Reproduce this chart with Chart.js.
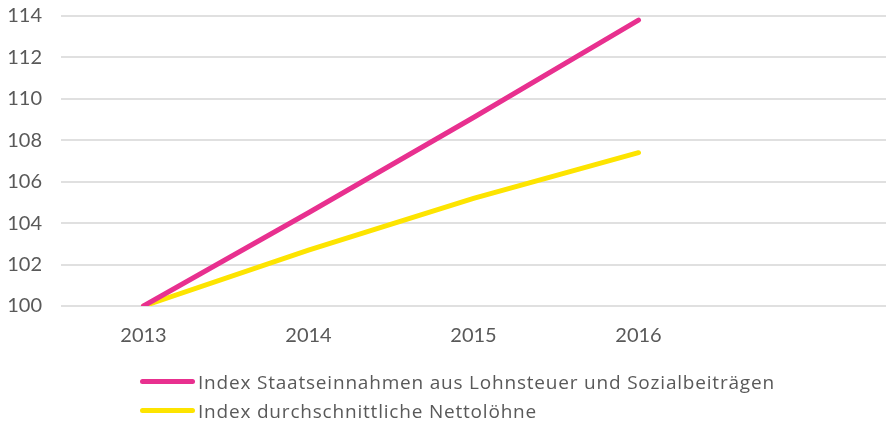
<!DOCTYPE html>
<html>
<head>
<meta charset="utf-8">
<script src="https://cdn.jsdelivr.net/npm/chart.js@4.4.1/dist/chart.umd.min.js"></script>
<style>
  html, body { margin: 0; padding: 0; background: #ffffff; }
  #wrap { position: relative; width: 886px; height: 369px; }
  #legend { position: absolute; left: 140px; top: 367px; font-family: "Open Sans", sans-serif; font-size: 19px; letter-spacing: 0.8px; color: #595959; }
  .legend-row { display: flex; align-items: center; height: 29px; white-space: nowrap; }
  .legend-swatch { width: 55px; height: 5px; border-radius: 3px; margin-right: 3px; }
</style>
</head>
<body>
<div id="wrap"><canvas id="chart"></canvas></div>
<div id="legend"></div>
<script>
const years = ['2013', '2014', '2015', '2016', ''];
const seriesNames = [
    'Index Staatseinnahmen aus Lohnsteuer und Sozialbeiträgen',
    'Index durchschnittliche Nettolöhne'
];
const staatseinnahmen = [100, 104.5, 109.1, 113.8, null];
const nettoloehne = [100, 102.7, 105.2, 107.4, null];
const seriesColors = ['#e8308f', '#fde400'];

const textColor = '#595959';
const gridColor = '#e0e0e0';

const legendEl = document.getElementById('legend');
legendEl.innerHTML = seriesNames.map((name, i) => (
    `<div class="legend-row"><div class="legend-swatch" style="background:${seriesColors[i]}"></div>${name}</div>`
)).join('');

const chart = new Chart(document.getElementById('chart'), {
    type: 'line',
    data: {
        labels: years,
        datasets: [
            {
                label: seriesNames[0],
                data: staatseinnahmen,
                borderColor: seriesColors[0],
                borderWidth: 5,
                borderCapStyle: 'round',
                pointRadius: 0,
                tension: 0,
                order: 1
            },
            {
                label: seriesNames[1],
                data: nettoloehne,
                borderColor: seriesColors[1],
                borderWidth: 5,
                borderCapStyle: 'round',
                pointRadius: 0,
                tension: 0,
                order: 2
            }
        ]
    },
    options: {
        responsive: true,
        maintainAspectRatio: false,
        animation: false,
        layout: { padding: { top: 16, right: 0, bottom: 3, left: 0 } },
        plugins: {
            legend: { display: false },
            tooltip: { enabled: false }
        },
        scales: {
            x: {
                offset: true,
                grid: { display: false, drawTicks: false },
                border: { display: false },
                ticks: {
                    color: textColor,
                    padding: 18,
                    maxRotation: 0,
                    font: { family: 'Lato', size: 20 }
                }
            },
            y: {
                min: 100,
                max: 114,
                afterFit: scale => {
                    scale.width = 61;
                    scale.paddingTop = 0;
                    scale.paddingBottom = 0;
                },
                grid: { color: gridColor, lineWidth: 2, drawTicks: false },
                border: { display: false },
                ticks: {
                    stepSize: 2,
                    color: textColor,
                    padding: 19,
                    font: { family: 'Lato', size: 20 }
                }
            }
        }
    }
});
</script>
</body>
</html>
